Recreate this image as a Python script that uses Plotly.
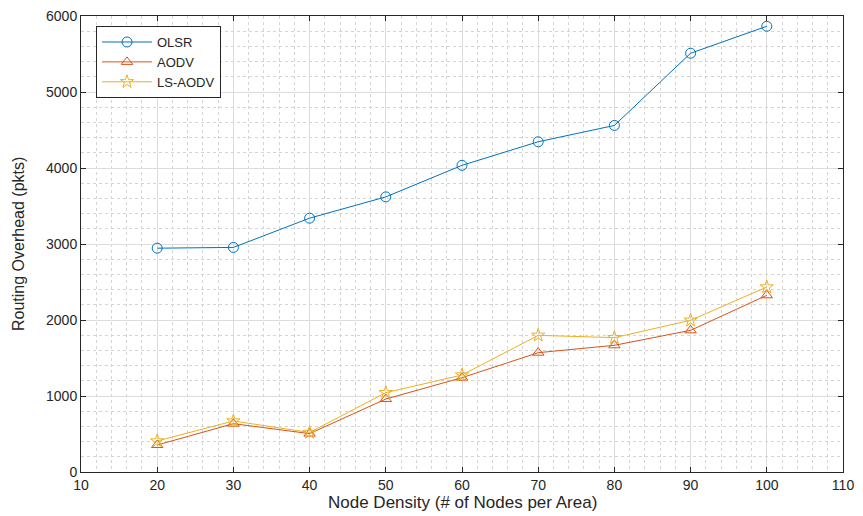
import plotly.graph_objects as go

node_density = [20, 30, 40, 50, 60, 70, 80, 90, 100]
olsr = [2945, 2955, 3340, 3620, 4035, 4345, 4560, 5510, 5865]
aodv = [355, 636, 505, 960, 1241, 1570, 1667, 1864, 2325]
ls_aodv = [408, 671, 520, 1044, 1276, 1798, 1768, 1996, 2434]

series = [
    ("OLSR", olsr, "#0072BD", "circle-open"),
    ("AODV", aodv, "#D95319", "triangle-up-open"),
    ("LS-AODV", ls_aodv, "#EDB120", "star-open"),
]

fig = go.Figure()
for name, vals, color, sym in series:
    fig.add_trace(go.Scatter(
        x=node_density, y=vals, name=name, mode="lines+markers",
        line=dict(color=color, width=1),
        marker=dict(symbol=sym, size=10, color=color, line=dict(width=1, color=color)),
    ))

font = "Liberation Sans, Arial, Helvetica, sans-serif"
axis_common = dict(
    showline=True, linecolor="#262626", linewidth=1, mirror="ticks",
    ticks="inside", ticklen=5, tickcolor="#262626",
    showgrid=True, gridcolor="#dcdcdc", gridwidth=1,
    zeroline=False, automargin=False, ticklabeloverflow="allow",
    tickfont=dict(family=font, size=14, color="#262626"),
)

fig.update_layout(
    width=855, height=508,
    margin=dict(l=73, r=20, t=8, b=44),
    plot_bgcolor="white", paper_bgcolor="white",
    font=dict(family=font, color="#262626"),
    xaxis=dict(
        range=[10, 110], tickvals=list(range(10, 111, 10)),
        minor=dict(dtick=2, showgrid=True, gridcolor="#d4d4d4", griddash="dot", ticks=""),
        **axis_common,
    ),
    yaxis=dict(
        range=[0, 6000], tickvals=list(range(0, 6001, 1000)),
        minor=dict(dtick=200, showgrid=True, gridcolor="#d4d4d4", griddash="dot", ticks=""),
        **axis_common,
    ),
    legend=dict(
        x=0.0197, y=0.978, xanchor="left", yanchor="top",
        bgcolor="white", bordercolor="#262626", borderwidth=1,
        font=dict(family=font, size=13, color="#262626"),
        tracegroupgap=0, itemwidth=50,
    ),
    showlegend=True,
    annotations=[
        dict(text="Node Density (# of Nodes per Area)", xref="paper", yref="paper",
             x=0.5, y=0, xanchor="center", yanchor="middle", yshift=-30,
             showarrow=False, font=dict(family=font, size=17, color="#262626")),
        dict(text="Routing Overhead (pkts)", xref="paper", yref="paper",
             x=0, y=0.5, xanchor="center", yanchor="middle", xshift=-63,
             textangle=-90, showarrow=False,
             font=dict(family=font, size=16, color="#262626")),
    ],
)

fig.write_html("out.html")
